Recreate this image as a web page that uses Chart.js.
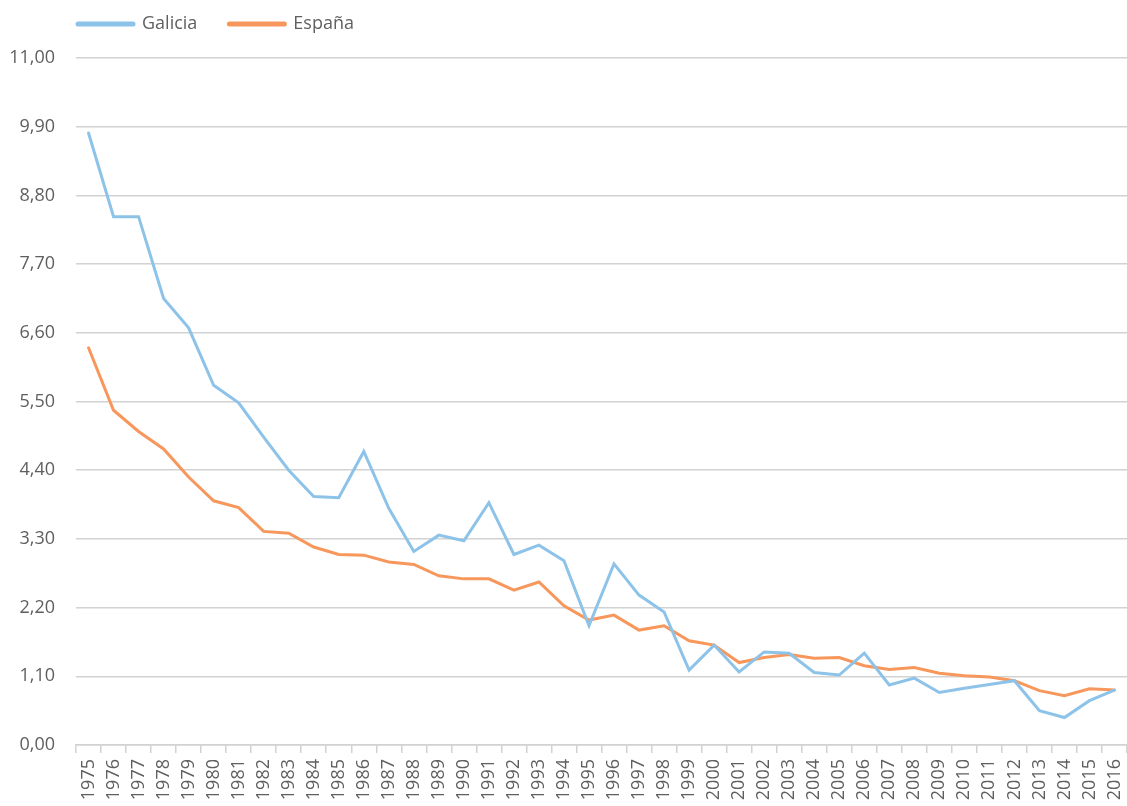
<!DOCTYPE html>
<html>
<head>
<meta charset="utf-8">
<script src="https://cdn.jsdelivr.net/npm/chart.js@4/dist/chart.umd.min.js"></script>
<style>
  html, body { margin: 0; padding: 0; background: #fff; }
  #wrap { width: 1127px; height: 806px; }
</style>
</head>
<body>
<div id="wrap"><canvas id="chart"></canvas></div>
<script>
// Años
const years = ['1975', '1976', '1977', '1978', '1979', '1980', '1981', '1982', '1983', '1984',
    '1985', '1986', '1987', '1988', '1989', '1990', '1991', '1992', '1993', '1994',
    '1995', '1996', '1997', '1998', '1999', '2000', '2001', '2002', '2003', '2004',
    '2005', '2006', '2007', '2008', '2009', '2010', '2011', '2012', '2013', '2014',
    '2015', '2016'];

const galicia = [9.80, 8.46, 8.46, 7.15, 6.68, 5.76, 5.48, 4.93, 4.40, 3.98,
    3.96, 4.70, 3.79, 3.10, 3.36, 3.27, 3.88, 3.05, 3.20, 2.95,
    1.91, 2.90, 2.40, 2.13, 1.20, 1.60, 1.17, 1.49, 1.47, 1.16,
    1.12, 1.47, 0.96, 1.07, 0.84, 0.91, 0.97, 1.03, 0.55, 0.44,
    0.71, 0.88];

const espana = [6.36, 5.36, 5.02, 4.74, 4.29, 3.91, 3.80, 3.42, 3.39, 3.17,
    3.05, 3.04, 2.93, 2.89, 2.71, 2.66, 2.66, 2.48, 2.61, 2.23,
    2.00, 2.08, 1.84, 1.91, 1.67, 1.60, 1.32, 1.40, 1.45, 1.39,
    1.40, 1.27, 1.21, 1.24, 1.15, 1.11, 1.09, 1.03, 0.87, 0.79,
    0.90, 0.88];

const yTicks = [0, 1.1, 2.2, 3.3, 4.4, 5.5, 6.6, 7.7, 8.8, 9.9, 11];

const textColor = '#5f5f5f';
const gridColor = '#d2d2d2';
const fontFamily = '"Open Sans", "DejaVu Sans", sans-serif';

// put the legend up in the left corner
const legendPlace = {
    id: 'legendPlace',
    afterLayout(chart) {
        chart.legend.left = 46;
        chart.legend.top = -17;
    }
};

new Chart(document.getElementById('chart'), {
    type: 'line',
    data: {
        labels: years,
        datasets: [
            {
                label: 'Galicia',
                data: galicia,
                borderColor: '#8dc3e9',
                backgroundColor: '#8dc3e9',
                borderWidth: 3,
                pointRadius: 0,
                tension: 0,
                borderCapStyle: 'round'
            },
            {
                label: 'España',
                data: espana,
                borderColor: '#f7975c',
                backgroundColor: '#f7975c',
                borderWidth: 3,
                pointRadius: 0,
                tension: 0,
                borderCapStyle: 'round'
            }
        ]
    },
    options: {
        responsive: true,
        maintainAspectRatio: false,
        animation: false,
        layout: { padding: 0 },
        plugins: {
            tooltip: { enabled: false },
            legend: {
                position: 'top',
                align: 'start',
                maxHeight: 58,
                labels: {
                    usePointStyle: true,
                    pointStyle: 'line',
                    pointStyleWidth: 55,
                    padding: 32,
                    color: textColor,
                    font: { family: fontFamily, size: 18 },
                    generateLabels(chart) {
                        const items = Chart.defaults.plugins.legend.labels.generateLabels(chart);
                        items.forEach(item => {
                            item.lineWidth = 5;
                            item.pointStyle = 'line';
                            item.lineCap = 'round';
                        });
                        return items;
                    }
                }
            }
        },
        scales: {
            x: {
                offset: true,
                grid: {
                    offset: true,
                    drawOnChartArea: false,
                    drawTicks: true,
                    tickLength: 8,
                    color: gridColor,
                    lineWidth: 1.5
                },
                border: { display: true, color: gridColor, width: 1.5 },
                ticks: {
                    autoSkip: false,
                    minRotation: 90,
                    maxRotation: 90,
                    padding: 6,
                    color: textColor,
                    font: { family: fontFamily, size: 18 }
                },
                afterFit(scale) {
                    scale.height = 61;
                    scale.paddingLeft = 0;
                    scale.paddingRight = 0;
                }
            },
            y: {
                min: 0,
                max: 11,
                afterBuildTicks(scale) {
                    scale.ticks = yTicks.map(v => ({ value: v }));
                },
                grid: {
                    drawTicks: false,
                    color: gridColor,
                    lineWidth: 1.5
                },
                border: { display: false },
                ticks: {
                    padding: 21,
                    color: textColor,
                    font: { family: fontFamily, size: 18 },
                    callback: v => v.toFixed(2).replace('.', ',')
                },
                afterFit(scale) { scale.width = 76; }
            }
        }
    },
    plugins: [legendPlace]
});
</script>
</body>
</html>
